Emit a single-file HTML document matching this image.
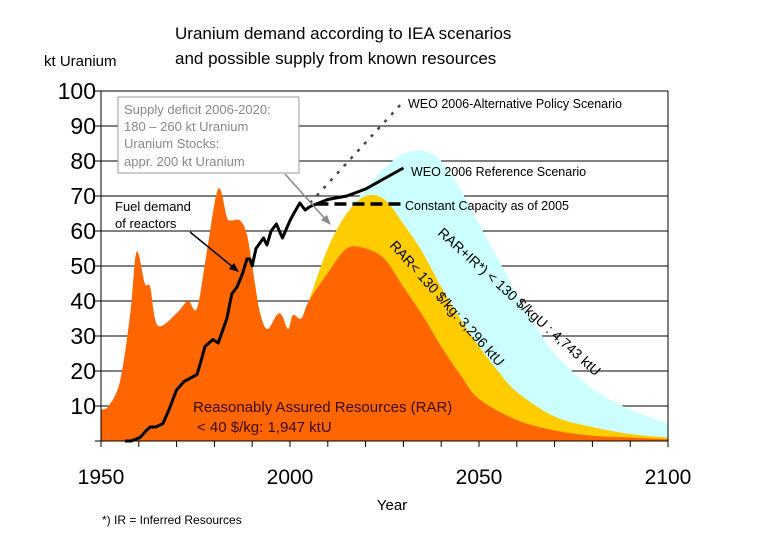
<!DOCTYPE html>
<html><head><meta charset="utf-8"><style>
body{margin:0;background:#fff;}
svg{font-family:"Liberation Sans",sans-serif;display:block;}
</style></head><body>
<svg id="chart" width="768" height="551">
<text x="175" y="39" font-size="17">Uranium demand according to IEA scenarios</text>
<text x="175" y="64" font-size="17">and possible supply from known resources</text>
<text x="44" y="66" font-size="15">kt Uranium</text>
<g id="grid"></g><g id="areas"></g><g id="axes"></g><g id="lines"></g>
<text x="392" y="510" font-size="15" text-anchor="middle">Year</text>
<text x="102" y="524" font-size="12">*) IR = Inferred Resources</text>
<rect x="118" y="97" width="181" height="76" fill="#fff" stroke="#999"/>
<g font-size="13" fill="#888">
<text x="124" y="114">Supply deficit 2006-2020:</text><text x="124" y="131">180 – 260 kt Uranium</text>
<text x="124" y="148">Uranium Stocks:</text><text x="124" y="166">appr. 200 kt Uranium</text></g>
<line x1="285" y1="174" x2="327" y2="221" stroke="#888" stroke-width="1.5"/>
<polygon points="331,225 321,220 327,215" fill="#888"/>
<g font-size="13"><text x="115" y="211">Fuel demand</text><text x="115" y="228">of reactors</text></g>
<line x1="190" y1="232" x2="234" y2="268" stroke="#000" stroke-width="1.5"/>
<polygon points="239,272 229,269 234,263" fill="#000"/>
<g font-size="12.5">
<text x="408" y="108">WEO 2006-Alternative Policy Scenario</text>
<text x="411" y="176">WEO 2006 Reference Scenario</text>
<text x="405" y="210">Constant Capacity as of 2005</text></g>
<g font-size="15" fill="#3a0a00">
<text x="193" y="412">Reasonably Assured Resources (RAR)</text><text x="197" y="432">&lt; 40 $/kg: 1,947 ktU</text></g>
<text transform="translate(389,246) rotate(48)" font-size="14">RAR&lt; 130 $/kg: 3,296 ktU</text>
<text transform="translate(437,234) rotate(42)" font-size="14">RAR+IR*) &lt; 130 $/kgU : 4,743 ktU</text>
</svg>
<script>
const rarYears=[1950,1952,1955,1957.7,1959.4,1961.6,1963,1965,1970,1973,1975.4,1978,1981,1983.3,1984.3,1986.8,1988.6,1990,1992,1994,1996.5,1997.8,1999.5,2000.8,2003,2005,2010,2015,2020,2025,2030,2035,2040,2045,2050,2060,2070,2080,2090,2100];
const rarValues=[9,10,17,36,54,45,44,33,36.5,40,38,54,72,64,63,63,59,50,37,32,36,36,32,36,35,40,48,55,55,52,44,36,27,19,12,6,3,1.5,1,0.5];
const rar130Years=[2005,2010,2015,2020,2025,2030,2035,2040,2045,2050,2055,2060,2070,2080,2090,2100];
const rar130Values=[40,55,65,70,69,62,54,44,35,27,20,14,7,4,2,1];
const rarIrYears=[2005,2010,2015,2020,2025,2030,2035,2040,2045,2050,2055,2060,2065,2070,2080,2090,2100];
const rarIrValues=[40,55,65,72,78,82,83,80,72,62,52,42,33,25,15,9,5];
const demandYears=[1956.3,1958,1960.3,1962,1963,1964.5,1966.4,1968,1970,1972,1975.4,1976.5,1977.5,1979.6,1981,1983.3,1984.6,1986,1987.5,1988.6,1989.4,1990,1991,1993,1993.9,1995,1996.4,1998,2000,2001,2002.6,2004,2005.3];
const demandValues=[0,0,1,3,4,4,5,9,14.6,17,19,23,27,29,28,35,42,44,48,52,52,50,55,58,56,60,62,58,63,65,68,66,67];
const refYears=[2005.3,2010,2015,2020,2025,2030];
const refValues=[67,69,70,72,75,78];
const altYears=[2005.3,2030];
const altValues=[68,97];
const constYears=[2007,2030];
const constValues=[67.7,67.7];
const yTicks=[10,20,30,40,50,60,70,80,90,100];
const xTickLabels=[1950,2000,2050,2100];
const NS="http://www.w3.org/2000/svg";
const X0=101,X1=668,Y0=441,Y1=91;
const xs=y=>X0+(y-1950)/150*(X1-X0);
const ys=v=>Y0-v/100*(Y0-Y1);
function mk(tag,attrs,parent){const e=document.createElementNS(NS,tag);for(const k in attrs)e.setAttribute(k,attrs[k]);parent.appendChild(e);return e;}
const areas=document.getElementById('areas'),grid=document.getElementById('grid'),axes=document.getElementById('axes'),lines=document.getElementById('lines'),svg=document.getElementById('chart');
function smooth(yrs,vals){
  const p=yrs.map((y,i)=>[xs(y),ys(vals[i])]);
  let d='';
  for(let i=0;i<p.length-1;i++){
    const p0=p[Math.max(0,i-1)],p1=p[i],p2=p[i+1],p3=p[Math.min(p.length-1,i+2)];
    const c1=[p1[0]+(p2[0]-p0[0])/6,p1[1]+(p2[1]-p0[1])/6],c2=[p2[0]-(p3[0]-p1[0])/6,p2[1]-(p3[1]-p1[1])/6];
    d+='C'+c1[0]+','+c1[1]+' '+c2[0]+','+c2[1]+' '+p2[0]+','+p2[1];
  }
  return d;
}
function areaPath(yrs,vals){return 'M'+xs(yrs[0])+','+Y0+'L'+xs(yrs[0])+','+ys(vals[0])+smooth(yrs,vals)+'L'+xs(yrs[yrs.length-1])+','+Y0+'Z';}
function linePath(yrs,vals){return yrs.map((y,i)=>(i?'L':'M')+xs(y)+','+ys(vals[i])).join('');}
yTicks.forEach(t=>{
  const g=mk('line',{x1:X0-6,x2:X1,y1:ys(t),y2:ys(t),stroke:'#000','stroke-width':1},grid);
  
  
  const tx=mk('text',{x:96,y:ys(t)+8,'font-size':23,'text-anchor':'end'},svg);
  tx.textContent=t;
  
  
});
let a=mk('path',{d:areaPath(rarIrYears,rarIrValues),fill:'#ccffff'},areas);


a=mk('path',{d:areaPath(rar130Years,rar130Values),fill:'#ffcc00'},areas);


a=mk('path',{d:areaPath(rarYears,rarValues),fill:'#ff6600'},areas);


mk('line',{x1:X0,x2:X0,y1:Y1,y2:Y0+6,stroke:'#000'},axes);
mk('line',{x1:X1,x2:X1,y1:Y1,y2:Y0+6,stroke:'#000'},axes);
mk('line',{x1:X0-6,x2:X1,y1:Y0,y2:Y0,stroke:'#000'},axes);
for(let y=1960;y<2100;y+=10)mk('line',{x1:xs(y),x2:xs(y),y1:Y0,y2:Y0+6,stroke:'#000'},axes);
xTickLabels.forEach(y=>{
  const tx=mk('text',{x:xs(y),y:484,'font-size':21,'text-anchor':'middle'},svg);
  tx.textContent=y;
  
  
});
let l=mk('path',{d:linePath(demandYears,demandValues),fill:'none',stroke:'#000','stroke-width':3,'stroke-linejoin':'round'},lines);


l=mk('path',{d:linePath(refYears,refValues),fill:'none',stroke:'#000','stroke-width':3},lines);


l=mk('path',{d:linePath(altYears,altValues),fill:'none',stroke:'#444','stroke-width':2.5,'stroke-dasharray':'3 7'},lines);


l=mk('path',{d:linePath(constYears,constValues),fill:'none',stroke:'#000','stroke-width':3.5,'stroke-dasharray':'12 6'},lines);


</script>
</body></html>
